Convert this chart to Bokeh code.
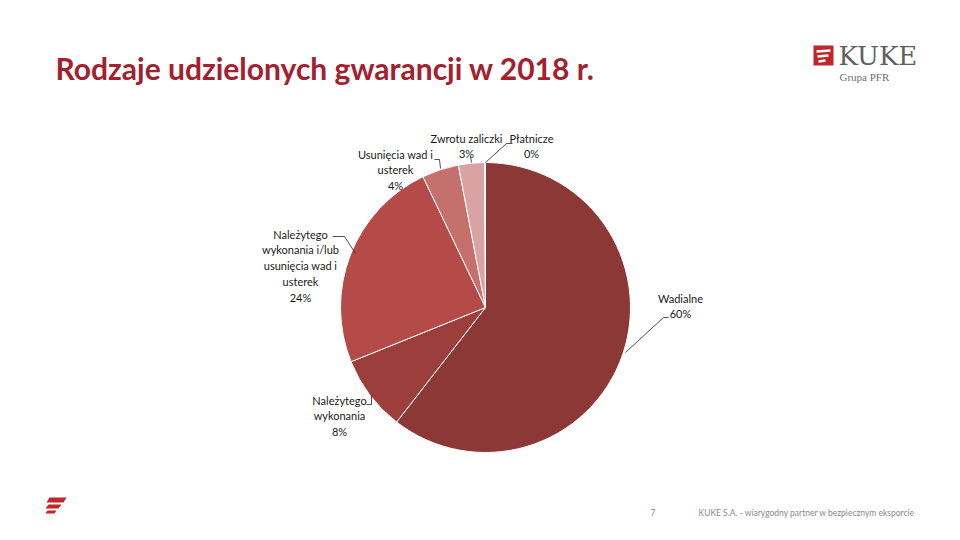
import math
from bokeh.plotting import figure
from bokeh.models import Range1d, ColumnDataSource
from bokeh.core.properties import value
from bokeh.embed import file_html
from bokeh.resources import INLINE

# ---- data ----
categories = ["Wadialne", "Należytego wykonania",
              "Należytego wykonania i/lub usunięcia wad i usterek",
              "Usunięcia wad i usterek", "Zwrotu zaliczki", "Płatnicze"]
shares = [60.5, 8.4, 24.0, 4.1, 2.9, 0.1]
label_names = ["Wadialne", "Należytego\nwykonania",
               "Należytego\nwykonania i/lub\nusunięcia wad i\nusterek",
               "Usunięcia wad i\nusterek", "Zwrotu zaliczki", "Płatnicze"]
colors = ["#8B3836", "#9C3F3C", "#B54B48", "#C5706D", "#D8A3A2", "#E6C3C2"]

title = "Rodzaje udzielonych gwarancji w 2018 r."
footer = "KUKE S.A. - wiarygodny partner w bezpiecznym eksporcie"
page_no = "7"

W, H = 944, 524
def sx(X): return X
def sy(Y): return H - Y

p = figure(width=W, height=H, output_backend="svg", toolbar_location=None,
           x_range=Range1d(0, W), y_range=Range1d(0, H), min_border=0)
p.axis.visible = False
p.grid.visible = False
p.outline_line_color = None
p.background_fill_color = "white"
p.border_fill_color = "white"

# ---- pie ----
cx, cy, R = sx(485), sy(307), 145
total = sum(shares)
starts, ends = [], []
cum = 0.0
for s in shares:
    a0 = math.pi / 2 - 2 * math.pi * cum / total
    cum += s
    a1 = math.pi / 2 - 2 * math.pi * cum / total
    starts.append(a1)
    ends.append(a0)
src = ColumnDataSource(dict(cat=categories, start=starts, end=ends, color=colors))
p.wedge(x=cx, y=cy, radius=R, start_angle="start", end_angle="end",
        fill_color="color", line_color="white", line_width=1, source=src)

# ---- labels ----
labels = [f"{n}\n{round(s)}%" for n, s in zip(label_names, shares)]
lx = [sx(680), sx(339), sx(300), sx(395), sx(466), sx(531)]
ly = [sy(291), sy(393), sy(227), sy(147), sy(131), sy(131)]
p.text(x=lx, y=ly, text=labels, text_font=value("Lato"), text_font_size="11px",
       text_color="#1a1a1a", text_align="center", text_baseline="top",
       text_line_height=1.22)

# leader lines
lines = [
    [(668, 317), (663, 317), (625, 352)],
    [(366, 404), (371, 404), (371, 395)],
    [(332, 236), (344, 236), (355, 253)],
    [(434, 159), (439, 159), (440, 168)],
    [(470, 156), (471, 162)],
    [(512, 143), (506, 143), (485, 162)],
]
p.multi_line(xs=[[sx(a) for a, b in l] for l in lines],
             ys=[[sy(b) for a, b in l] for l in lines],
             line_color="#222222", line_width=0.8)

# ---- title ----
p.text(x=[sx(55)], y=[sy(67)], text=[title], text_font=value("Lato"),
       text_font_size="30px", text_font_style="bold", text_color="#A3212F",
       text_baseline="middle")

# ---- logo ----
p.rect(x=[sx(823)], y=[sy(55)], width=20, height=20, fill_color="#C0272D",
       line_color=None)
p.multi_line(xs=[[sx(816), sx(830)], [sx(817), sx(828)], [sx(818), sx(825)]],
             ys=[[sy(51), sy(50)], [sy(56), sy(55)], [sy(61), sy(60)]],
             line_color="white", line_width=2.5)
p.text(x=[sx(838)], y=[sy(55)], text=["KUKE"], text_font=value("DejaVu Serif"),
       text_font_size="26px", text_color="#5F5F5F", text_baseline="middle")
p.text(x=[sx(839)], y=[sy(76)], text=["Grupa PFR"], text_font=value("Liberation Serif"),
       text_font_size="11px", text_color="#6F6F6F", text_baseline="middle")

# ---- footer ----
stripes_x = [[sx(49), sx(66), sx(63), sx(46)],
             [sx(48), sx(61), sx(58), sx(45)],
             [sx(47), sx(56), sx(54), sx(45)]]
stripes_y = [[sy(497), sy(497), sy(502), sy(502)],
             [sy(504), sy(504), sy(508), sy(508)],
             [sy(510), sy(510), sy(513), sy(513)]]
p.patches(xs=stripes_x, ys=stripes_y, fill_color="#C0272D", line_color=None)
p.text(x=[sx(650)], y=[sy(512)], text=[page_no], text_font=value("Lato"),
       text_font_size="8.5px", text_color="#8a8a8a", text_baseline="middle")
p.text(x=[sx(698)], y=[sy(512)], text=[footer], text_font=value("Lato"),
       text_font_size="8.5px", text_color="#8a8a8a", text_baseline="middle")

open("out.html", "w").write(file_html(p, INLINE))
